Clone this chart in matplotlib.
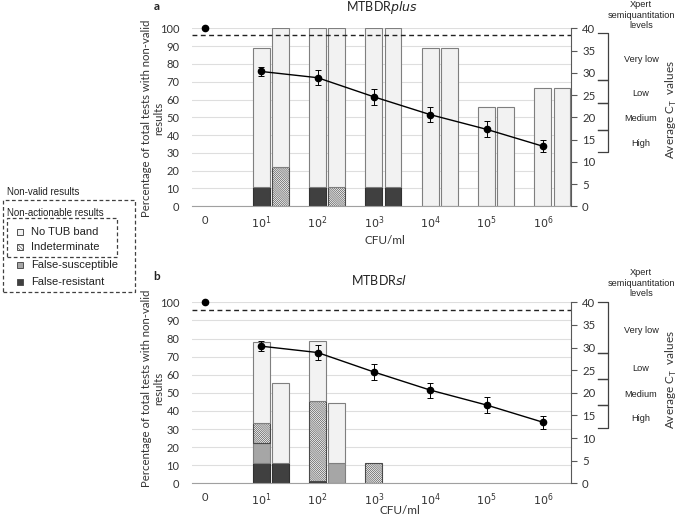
import numpy as np
import matplotlib
matplotlib.use("Agg")
import matplotlib.pyplot as plt
from matplotlib.patches import Rectangle
from matplotlib.transforms import blended_transform_factory

plt.rcParams['font.family'] = ['Lato', 'DejaVu Sans']
plt.rcParams['hatch.linewidth'] = 0.45

W, H = 685, 524

# categories (CFU/ml)
cats = ['0', '$10^1$', '$10^2$', '$10^3$', '$10^4$', '$10^5$', '$10^6$']

# MTBDRplus, left / right bar of each pair (segment heights, %)
plus_fr_l = [0, 11.1, 11.1, 11.1, 0, 0, 0]
plus_fs_l = [0, 0, 0, 0, 0, 0, 0]
plus_ind_l = [0, 0, 0, 0, 0, 0, 0]
plus_tub_l = [0, 77.8, 88.9, 88.9, 88.9, 55.6, 66.7]
plus_fr_r = [0, 0, 0, 11.1, 0, 0, 0]
plus_fs_r = [0, 0, 0, 0, 0, 0, 0]
plus_ind_r = [0, 22.2, 11.1, 0, 0, 0, 0]
plus_tub_r = [0, 77.8, 88.9, 88.9, 88.9, 55.6, 66.7]

# MTBDRsl
sl_fr_l = [0, 11.1, 1.0, 0, 0, 0, 0]
sl_fs_l = [0, 11.1, 0, 0, 0, 0, 0]
sl_ind_l = [0, 11.3, 44.5, 11.1, 0, 0, 0]
sl_tub_l = [0, 44.3, 33.3, 0, 0, 0, 0]
sl_fr_r = [0, 11.1, 0, 0, 0, 0, 0]
sl_fs_r = [0, 0, 11.1, 0, 0, 0, 0]
sl_ind_r = [0, 0, 0, 0, 0, 0, 0]
sl_tub_r = [0, 44.5, 33.4, 0, 0, 0, 0]

# Xpert average Ct
ct_mean = [40, 30.3, 28.9, 24.6, 20.6, 17.3, 13.5]
ct_err = [0, 1.1, 1.7, 1.75, 1.65, 1.8, 1.4]
ct_cutoff = 38.4

levels = ['Very low', 'Low', 'Medium', 'High']
plus_level_edges = [38.9, 28.3, 23.2, 17.2, 12.2]
sl_level_edges = [40, 28.7, 23.1, 17.3, 12.2]

c_tub = '#f2f2f2'
c_fs = '#a6a6a6'
c_fr = '#404040'
c_edge = '#7f7f7f'
HATCH = '\\' * 16


def px(x, y):
    return x / W, 1 - y / H


def draw_stack(ax, xpos, fr, fs, ind, tub):
    bottom = np.zeros(len(xpos))
    for vals, col, hatch, ec in [(fr, c_fr, None, '#303030'),
                                 (fs, c_fs, None, c_edge),
                                 (ind, 'white', HATCH, '#4a4a4a'),
                                 (tub, c_tub, None, c_edge)]:
        vals = np.array(vals, dtype=float)
        keep = vals > 0
        ax.bar(xpos[keep], vals[keep], 0.30, bottom=bottom[keep], color=col,
               hatch=hatch, edgecolor=ec, linewidth=0.8, zorder=2)
        bottom += vals


def panel(top_px, bot_px, left_data, right_data, edges, title_parts,
          title_xy, letter, letter_y, cfu_xy, xpert_y, ylabel_y):
    l, b = px(192, bot_px)
    r, t = px(571, top_px)
    ax = fig.add_axes([l, b, r - l, t - b])
    x = np.arange(len(cats))
    draw_stack(ax, x, *left_data)
    draw_stack(ax, x + 0.34, *right_data)
    ax.set_xlim(-0.23, 6.5)
    ax.set_ylim(0, 100)
    ax.set_yticks(np.arange(0, 101, 10))
    ax.set_xticks(x)
    ax.set_xticklabels(cats)
    ax.tick_params(axis='both', length=0, labelsize=8, colors='#333333')
    ax.tick_params(axis='x', pad=6)
    ax.tick_params(axis='y', pad=9)
    ax.yaxis.grid(True, color='#dedede', lw=0.8)
    ax.set_axisbelow(True)
    for s in ['left', 'top', 'right']:
        ax.spines[s].set_visible(False)
    ax.spines['bottom'].set_color('#a0a0a0')

    ax2 = ax.twinx()
    ax2.set_ylim(0, 40)
    ax2.set_yticks(np.arange(0, 41, 5))
    ax2.tick_params(axis='y', length=4, width=0.8, color='#595959',
                    labelsize=8.2, labelcolor='#333333', pad=4)
    for s in ['left', 'top', 'bottom']:
        ax2.spines[s].set_visible(False)
    ax2.spines['right'].set_color('#595959')
    ax2.axhline(ct_cutoff, color='#222222', lw=1.0, ls=(0, (3.5, 2.5)))
    ax2.plot(x[0], ct_mean[0], 'o', color='black', ms=4.5, clip_on=False)
    ax2.errorbar(x[1:], ct_mean[1:], yerr=ct_err[1:], color='black', lw=1.0,
                 marker='o', ms=4.5, capsize=2, elinewidth=0.7, capthick=0.7)

    # Xpert semiquantitation brackets
    tr = blended_transform_factory(ax2.transAxes, ax2.transData)
    for i, name in enumerate(levels):
        y0, y1 = edges[i], edges[i + 1]
        ax2.plot([1.07, 1.097, 1.097, 1.07], [y0, y0, y1, y1],
                 color='#404040', lw=0.9, transform=tr, clip_on=False)
        ax2.text(1.185, (y0 + y1) / 2 - 0.5, name, transform=tr, ha='center',
                 va='center', fontsize=6.6, family='Liberation Sans',
                 color='#222222')

    fx, fy = px(641, xpert_y)
    fig.text(fx, fy, 'Xpert\nsemiquantitation\nlevels', ha='center',
             va='center', fontsize=6.6, family='Liberation Sans',
             color='#222222', linespacing=1.15)
    fx, fy = px(671, ylabel_y)
    fig.text(fx, fy, 'Average C$_\\mathregular{T}$  values', rotation=90,
             ha='center', va='center', fontsize=8.5, color='#333333')
    # left label, two lines drawn separately
    fx, fy = px(146, ylabel_y + 8)
    fig.text(fx, fy, 'Percentage of total tests with non-valid',
             rotation=90, ha='center', va='center', fontsize=8.2,
             color='#333333')
    fx, fy = px(159, ylabel_y + 8)
    fig.text(fx, fy, 'results', rotation=90, ha='center', va='center',
             fontsize=8.2, color='#333333')
    fx, fy = px(*cfu_xy)
    fig.text(fx, fy, 'CFU/ml', ha='center', va='center', fontsize=8.5,
             color='#333333')
    fx, fy = px(*title_xy)
    fig.text(fx, fy, title_parts, ha='center', va='center', fontsize=9,
             color='#222222')
    fx, fy = px(157, letter_y)
    fig.text(fx, fy, letter, ha='center', va='center', fontsize=8.5,
             fontweight='bold', color='#222222')
    return ax


fig = plt.figure(figsize=(W / 100, H / 100), dpi=100)

panel(28.3, 206.3,
      (plus_fr_l, plus_fs_l, plus_ind_l, plus_tub_l),
      (plus_fr_r, plus_fs_r, plus_ind_r, plus_tub_r),
      plus_level_edges, 'MTBDR$\\it{plus}$', (382, 8), 'a', 7, (385, 241),
      15, 110)
panel(302.3, 483.3,
      (sl_fr_l, sl_fs_l, sl_ind_l, sl_tub_l),
      (sl_fr_r, sl_fs_r, sl_ind_r, sl_tub_r),
      sl_level_edges, 'MTBDR$\\it{sl}$', (379, 280), 'b', 277, (400, 511),
      283, 380)

# legend drawn by hand with dashed boxes
lf = 'Liberation Sans'
fig.text(*px(7, 192), 'Non-valid results', fontsize=7, family=lf,
         va='center', color='#222222')
fig.text(*px(7, 213), 'Non-actionable results', fontsize=7, family=lf,
         va='center', color='#222222')
x0, y0 = px(2.7, 291.7)
x1, y1 = px(135, 200)
fig.add_artist(Rectangle((x0, y0), x1 - x0, y1 - y0, fill=False,
                         ls=(0, (3, 2)), lw=0.9, ec='#404040',
                         transform=fig.transFigure))
x0, y0 = px(6.7, 256.7)
x1, y1 = px(117, 218.3)
fig.add_artist(Rectangle((x0, y0), x1 - x0, y1 - y0, fill=False,
                         ls=(0, (3, 2)), lw=0.9, ec='#404040',
                         transform=fig.transFigure))
leg_items = [('No TUB band', c_tub, None, 231.7),
             ('Indeterminate', 'white', '\\' * 10, 247.3),
             ('False-susceptible', c_fs, None, 265),
             ('False-resistant', c_fr, None, 282.3)]
for name, col, hatch, yy in leg_items:
    sx, sy = px(16.5, yy + 3)
    fig.add_artist(Rectangle((sx, sy), 6 / W, 6 / H, facecolor=col,
                             hatch=hatch, edgecolor='#505050', lw=0.7,
                             transform=fig.transFigure))
    fig.text(*px(31, yy), name, fontsize=8, family=lf, va='center',
             color='#222222')

fig.savefig('out.png', dpi=100)
